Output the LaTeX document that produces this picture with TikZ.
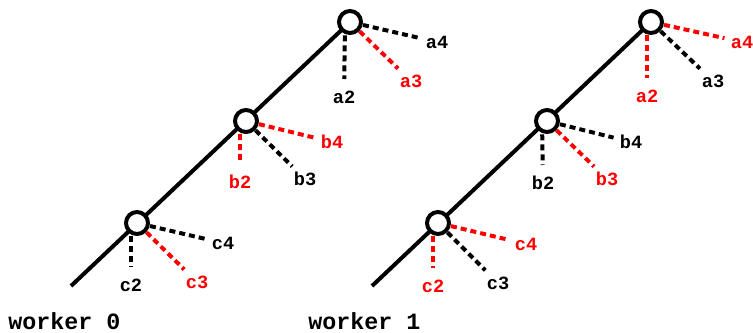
\documentclass[tikz,border=0pt]{standalone}
\usepackage{fontspec}
\setmonofont{Liberation Mono}
\usetikzlibrary{calc}
\begin{document}
\begin{tikzpicture}[x=0.75pt,y=-0.75pt,
  trunk/.style={line width=3pt},
  knot/.style={circle,draw,line width=3pt,fill=white,minimum size=16.5pt,inner sep=0pt},
  dl/.style={line width=3pt,dash pattern=on 4.5pt off 3pt,shorten <=10pt,shorten >=13.5pt},
  lab/.style={font=\ttfamily\bfseries\fontsize{14}{14}\selectfont,inner sep=0pt},
  wk/.style={font=\ttfamily\bfseries\fontsize{17.5}{17.5}\selectfont,inner sep=0pt,anchor=base west}]
\useasboundingbox (0,0) rectangle (753,332);
% tree 0
\coordinate (A0) at (350,22);
\coordinate (B0) at (246,121);
\coordinate (C0) at (137,223);
\coordinate (T0) at (71,286);
\node[lab] (L0a2) at (344,97) {a2};
\node[lab] (L0a4) at (437,42) {a4};
\node[lab,red] (L0a3) at (411,81) {a3};
\node[lab,red] (L0b2) at (240,182) {b2};
\node[lab,red] (L0b4) at (332,142) {b4};
\node[lab] (L0b3) at (305,179) {b3};
\node[lab] (L0c2) at (131,285) {c2};
\node[lab] (L0c4) at (223,243) {c4};
\node[lab,red] (L0c3) at (197,282) {c3};
\draw[trunk] (T0) -- (A0);
\draw[dl] ($(A0)+(-5,0)$) -- (L0a2.center);
\draw[dl] (A0) -- (L0a4.center);
\draw[dl,red] (A0) -- (L0a3.center);
\draw[dl,red] ($(B0)+(-6,0)$) -- (L0b2.center);
\draw[dl,red] (B0) -- (L0b4.center);
\draw[dl] (B0) -- (L0b3.center);
\draw[dl] ($(C0)+(-6,0)$) -- (L0c2.center);
\draw[dl] (C0) -- (L0c4.center);
\draw[dl,red] (C0) -- (L0c3.center);
\node[knot] (K0a) at (A0) {};
\node[knot] (K0b) at (B0) {};
\node[knot] (K0c) at (C0) {};
% tree 1
\coordinate (A1) at (651,22);
\coordinate (B1) at (547,121);
\coordinate (C1) at (438,223);
\coordinate (T1) at (372,286);
\node[lab,red] (L1a2) at (647,96) {a2};
\node[lab,red] (L1a4) at (742,42) {a4};
\node[lab] (L1a3) at (713,81) {a3};
\node[lab] (L1b2) at (543,183) {b2};
\node[lab] (L1b4) at (631,142) {b4};
\node[lab,red] (L1b3) at (607,179) {b3};
\node[lab,red] (L1c2) at (433,286) {c2};
\node[lab,red] (L1c4) at (526,244) {c4};
\node[lab] (L1c3) at (498,283) {c3};
\draw[trunk] (T1) -- (A1);
\draw[dl,red] ($(A1)+(-4,0)$) -- (L1a2.center);
\draw[dl,red] (A1) -- (L1a4.center);
\draw[dl] (A1) -- (L1a3.center);
\draw[dl] ($(B1)+(-5,0)$) -- (L1b2.center);
\draw[dl] (B1) -- (L1b4.center);
\draw[dl,red] (B1) -- (L1b3.center);
\draw[dl,red] ($(C1)+(-5,0)$) -- (L1c2.center);
\draw[dl,red] (C1) -- (L1c4.center);
\draw[dl] (C1) -- (L1c3.center);
\node[knot] (K1a) at (A1) {};
\node[knot] (K1b) at (B1) {};
\node[knot] (K1c) at (C1) {};
% captions
\node[wk] (W0) at (8,329) {worker 0};
\node[wk] (W1) at (308,329) {worker 1};
\end{tikzpicture}
\end{document}
